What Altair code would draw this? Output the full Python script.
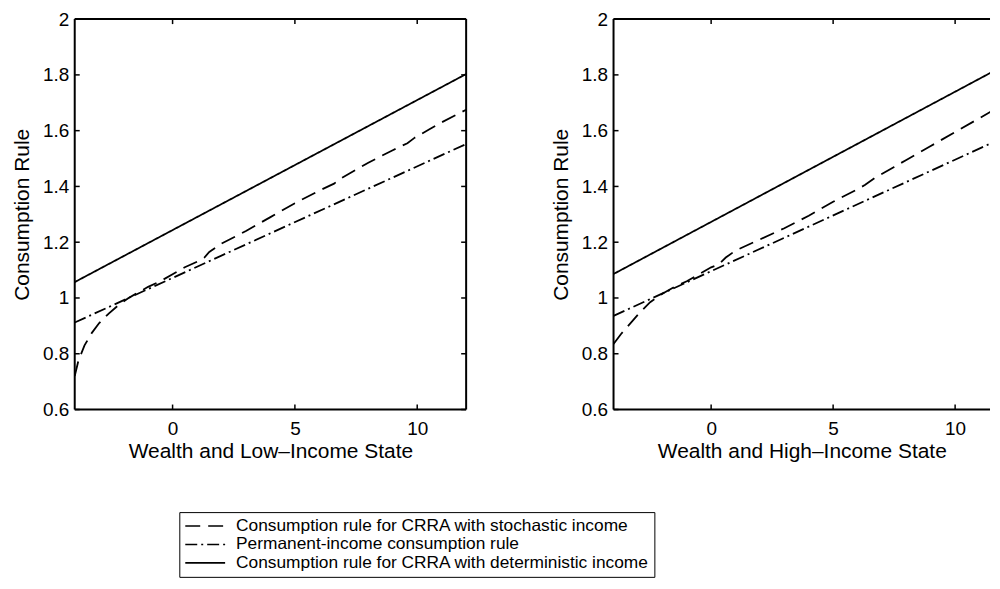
import altair as alt
import pandas as pd

SERIES = ["Consumption rule for CRRA with stochastic income",
          "Permanent-income consumption rule",
          "Consumption rule for CRRA with deterministic income"]
DASHES = [[15, 8], [12, 4, 2, 4], [1, 0]]

x_ticks = [0, 5, 10]
y_ticks = [0.6, 0.8, 1.0, 1.2, 1.4, 1.6, 1.8, 2.0]

# Low-income state
low_sto_x = [-4.0, -3.85, -3.6, -3.3, -3.0, -2.6, -2.2, -1.8, -1.4, -1.0, -0.5, 0.0, 0.5,
             1.0, 1.3, 1.5, 2.0, 3.0, 4.0, 5.0, 6.0, 6.6, 6.9, 7.5, 8.0, 9.0, 9.6, 9.9,
             10.5, 11.0, 12.0]
low_sto_y = [0.72, 0.775, 0.83, 0.875, 0.91, 0.945, 0.975, 1.0, 1.02, 1.04, 1.06, 1.085,
             1.11, 1.13, 1.145, 1.165, 1.195, 1.24, 1.29, 1.34, 1.385, 1.41, 1.43, 1.46,
             1.485, 1.53, 1.555, 1.575, 1.605, 1.63, 1.675]
low_pi_x = [-4.0, 12.0]
low_pi_y = [0.912, 1.552]
low_det_x = [-4.0, 12.0]
low_det_y = [1.057, 1.803]

# High-income state
high_sto_x = [-4.0, -3.7, -3.4, -3.0, -2.5, -2.0, -1.5, -1.0, -0.5, 0.0, 0.3, 0.6, 1.0, 2.0,
              3.0, 4.0, 5.0, 6.0, 6.3, 6.7, 7.5, 8.0, 9.0, 10.0, 11.0, 12.0]
high_sto_y = [0.835, 0.87, 0.90, 0.94, 0.985, 1.015, 1.04, 1.06, 1.085, 1.11, 1.12, 1.145,
              1.17, 1.21, 1.25, 1.295, 1.345, 1.39, 1.405, 1.43, 1.47, 1.495, 1.545, 1.595,
              1.645, 1.695]
high_pi_x = [-4.0, 12.0]
high_pi_y = [0.936, 1.576]
high_det_x = [-4.0, 12.0]
high_det_y = [1.086, 1.833]

FONT = "Liberation Sans"
YTITLE = "Consumption Rule"
H = 392


def make_df(sx, sy, px, py, dx, dy):
    rows = []
    for name, xs, ys in [(SERIES[0], sx, sy), (SERIES[1], px, py), (SERIES[2], dx, dy)]:
        for a, b in zip(xs, ys):
            rows.append({"x": a, "y": b, "series": name})
    return pd.DataFrame(rows)


def panel(df, xmax, width, title, show_legend, right_side):
    xs = alt.Scale(domain=[-4, xmax], nice=False, zero=False)
    ys = alt.Scale(domain=[0.6, 2.0], nice=False, zero=False)
    xax = alt.Axis(values=x_ticks, title=title)
    yax = alt.Axis(values=y_ticks, title=YTITLE, format="~g")
    if show_legend:
        leg = alt.Legend(title=None, orient="none", legendX=105, legendY=495,
                         symbolType="stroke", symbolSize=1600, symbolStrokeWidth=1.6,
                         symbolStrokeColor="black", labelFont=FONT, labelFontSize=17.4,
                         labelColor="black", labelLimit=0, labelOffset=10,
                         clipHeight=18, rowPadding=0.5, padding=5,
                         strokeColor="black", fillColor="white")
        sd = alt.StrokeDash("series:N", scale=alt.Scale(domain=SERIES, range=DASHES),
                            sort=SERIES, legend=leg)
    else:
        sd = alt.StrokeDash("series:N", scale=alt.Scale(domain=SERIES, range=DASHES),
                            sort=SERIES, legend=None)
    lines = alt.Chart(df).mark_line(clip=True, strokeWidth=1.8, color="black").encode(
        x=alt.X("x:Q", scale=xs, axis=xax),
        y=alt.Y("y:Q", scale=ys, axis=yax),
        strokeDash=sd,
        order="x:Q",
    )
    yt = pd.DataFrame({"y": y_ticks})
    xt = pd.DataFrame({"x": x_ticks})
    layers = [lines]
    # inward tick marks
    layers.append(alt.Chart(yt).mark_rule(color="black", strokeWidth=1.5).encode(
        y=alt.Y("y:Q", scale=ys), x=alt.value(0), x2=alt.value(5)))
    if right_side:
        layers.append(alt.Chart(yt).mark_rule(color="black", strokeWidth=1.5).encode(
            y=alt.Y("y:Q", scale=ys), x=alt.value(width - 5), x2=alt.value(width)))
    layers.append(alt.Chart(xt).mark_rule(color="black", strokeWidth=1.5).encode(
        x=alt.X("x:Q", scale=xs), y=alt.value(0), y2=alt.value(5)))
    layers.append(alt.Chart(xt).mark_rule(color="black", strokeWidth=1.5).encode(
        x=alt.X("x:Q", scale=xs), y=alt.value(H - 5), y2=alt.value(H)))
    # frame
    hb = pd.DataFrame({"x": [-4, -4], "x2": [xmax, xmax], "y": [0.6, 2.0]})
    vx = [-4, xmax] if right_side else [-4]
    vb = pd.DataFrame({"x": vx, "y": [0.6] * len(vx), "y2": [2.0] * len(vx)})
    layers.append(alt.Chart(hb).mark_rule(color="black", strokeWidth=2).encode(
        x=alt.X("x:Q", scale=xs), x2="x2:Q", y=alt.Y("y:Q", scale=ys)))
    layers.append(alt.Chart(vb).mark_rule(color="black", strokeWidth=2).encode(
        x=alt.X("x:Q", scale=xs), y=alt.Y("y:Q", scale=ys), y2="y2:Q"))
    return alt.layer(*layers).properties(width=width, height=H)


low_df = make_df(low_sto_x, low_sto_y, low_pi_x, low_pi_y, low_det_x, low_det_y)
high_df = make_df(high_sto_x, high_sto_y, high_pi_x, high_pi_y, high_det_x, high_det_y)

left = panel(low_df, 12, 393, "Wealth and Low\u2013Income State", True, True)
right = panel(high_df, 11.43, 378, "Wealth and High\u2013Income State", False, False)

chart = alt.hconcat(left, right, spacing=82).properties(
    padding={"left": 3, "top": 0, "right": 0, "bottom": 0},
    background="white",
).configure_view(
    stroke="transparent"
).configure_axis(
    labelFont=FONT, labelFontSize=19, labelColor="black",
    titleFont=FONT, titleFontSize=21, titleFontWeight="normal", titleColor="black",
    ticks=False, domain=False, grid=False,
).configure_axisX(
    labelPadding=10, titlePadding=2,
).configure_axisY(
    labelPadding=6, titlePadding=10,
)

chart.save("out.html", embed_options={"renderer": "svg", "actions": False})
